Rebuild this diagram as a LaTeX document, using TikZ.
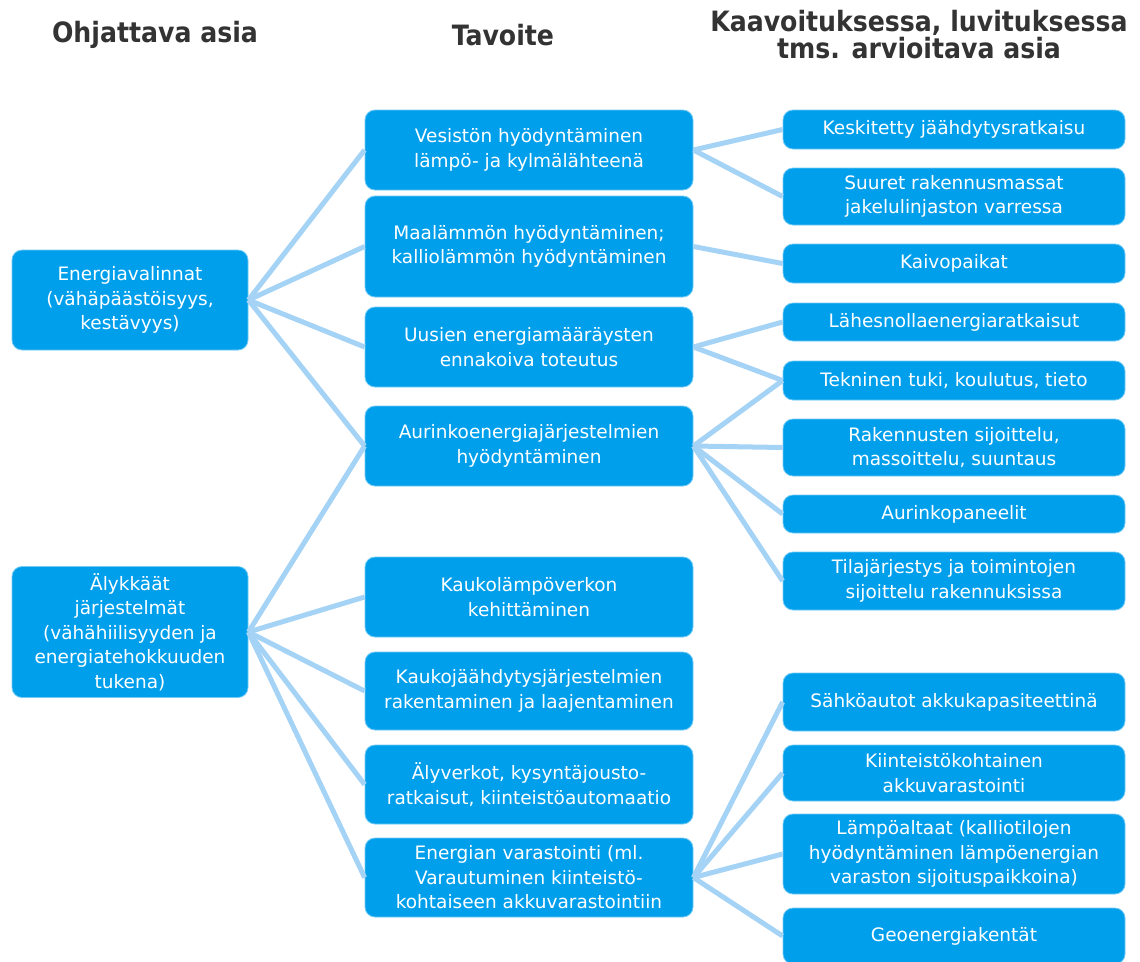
\documentclass[tikz,border=0pt]{standalone}
\usepackage{fontspec}
\setmainfont{DejaVu Sans}
\newfontfamily\condfont{DejaVu Sans Condensed}
\usetikzlibrary{positioning}

\definecolor{boxblue}{RGB}{0,159,236}
\definecolor{linkblue}{RGB}{164,211,246}
\definecolor{headgray}{RGB}{51,51,51}

\begin{document}
\begin{tikzpicture}[
            x = 1pt, y = -1pt, % pixel units, y grows downwards
            link/.style = {linkblue, line width = 5pt}, % connector style
            box/.style = {rectangle, rounded corners = 10pt, fill = boxblue,
                draw = boxblue!55!white, line width = 0.8pt, text = white,
                align = center, inner sep = 0pt,
                font = \fontsize{18.5}{24.5}\selectfont},
            ohj/.style = {box, minimum width = 236pt},
            tav/.style = {box, minimum width = 328pt},
            kaav/.style = {box, minimum width = 342pt},
            head/.style = {text = headgray, align = center,
                font = \condfont\bfseries\fontsize{28}{27}\selectfont}
        ]

        \useasboundingbox (0,0) rectangle (1140,961);

        % column headers
        \node[head] (H1) at (155,35) {Ohjattava asia};
        \node[head] (H2) at (503,35) {Tavoite};
        \node[head] (H3) at (919,35) {Kaavoituksessa, luvituksessa\\tms. arvioitava asia};

        % ohjattava asia
        \node[ohj, minimum height = 100pt] (O1) at (130,300) {Energiavalinnat\\(vähäpäästöisyys,\\kestävyys)};
        \node[ohj, minimum height = 131pt] (O2) at (130,632) {Älykkäät\\järjestelmät\\(vähähiilisyyden ja\\energiatehokkuuden\\tukena)};

        % tavoite
        \node[tav, minimum height = 80pt] (T1) at (529,150) {Vesistön hyödyntäminen\\lämpö- ja kylmälähteenä};
        \node[tav, minimum height = 101pt] (T2) at (529,246.5) {Maalämmön hyödyntäminen;\\kalliolämmön hyödyntäminen};
        \node[tav, minimum height = 80pt] (T3) at (529,347) {Uusien energiamääräysten\\ennakoiva toteutus};
        \node[tav, minimum height = 80pt] (T4) at (529,446) {Aurinkoenergiajärjestelmien\\hyödyntäminen};
        \node[tav, minimum height = 80pt] (T5) at (529,597) {Kaukolämpöverkon\\kehittäminen};
        \node[tav, minimum height = 78pt] (T6) at (529,691) {Kaukojäähdytysjärjestelmien\\rakentaminen ja laajentaminen};
        \node[tav, minimum height = 79pt] (T7) at (529,784.5) {Älyverkot, kysyntäjousto-\\ratkaisut, kiinteistöautomaatio};
        \node[tav, minimum height = 79pt] (T8) at (529,877.5) {Energian varastointi (ml.\\Varautuminen kiinteistö-\\kohtaiseen akkuvarastointiin};

        % kaavoituksessa arvioitava asia
        \node[kaav, minimum height = 39pt] (K1) at (954,129.5) {Keskitetty jäähdytysratkaisu};
        \node[kaav, minimum height = 57pt] (K2) at (954,196.5) {Suuret rakennusmassat\\jakelulinjaston varressa};
        \node[kaav, minimum height = 39pt] (K3) at (954,263.5) {Kaivopaikat};
        \node[kaav, minimum height = 38pt] (K4) at (954,322) {Lähesnollaenergiaratkaisut};
        \node[kaav, minimum height = 39pt] (K5) at (954,380.5) {Tekninen tuki, koulutus, tieto};
        \node[kaav, minimum height = 57pt] (K6) at (954,447.5) {Rakennusten sijoittelu,\\massoittelu, suuntaus};
        \node[kaav, minimum height = 38pt] (K7) at (954,514) {Aurinkopaneelit};
        \node[kaav, minimum height = 58pt] (K8) at (954,581) {Tilajärjestys ja toimintojen\\sijoittelu rakennuksissa};
        \node[kaav, minimum height = 58pt] (K9) at (954,702) {Sähköautot akkukapasiteettinä};
        \node[kaav, minimum height = 56pt] (K10) at (954,773) {Kiinteistökohtainen\\akkuvarastointi};
        \node[kaav, minimum height = 80pt] (K11) at (954,854) {Lämpöaltaat (kalliotilojen\\hyödyntäminen lämpöenergian\\varaston sijoituspaikkoina)};
        \node[kaav, minimum height = 56pt] (K12) at (954,936) {Geoenergiakentät};

        % connectors
        \foreach \t in {T1,T2,T3,T4}
            \draw[link] (O1.east) -- (\t.west);
        \foreach \t in {T4,T5,T6,T7,T8}
            \draw[link] (O2.east) -- (\t.west);
        \draw[link] (T1.east) -- (K1.west);
        \draw[link] (T1.east) -- (K2.west);
        \draw[link] (T2.east) -- (K3.west);
        \draw[link] (T3.east) -- (K4.west);
        \draw[link] (T3.east) -- (K5.west);
        \foreach \k in {K5,K6,K7,K8}
            \draw[link] (T4.east) -- (\k.west);
        \foreach \k in {K9,K10,K11,K12}
            \draw[link] (T8.east) -- (\k.west);

    \end{tikzpicture}
\end{document}
